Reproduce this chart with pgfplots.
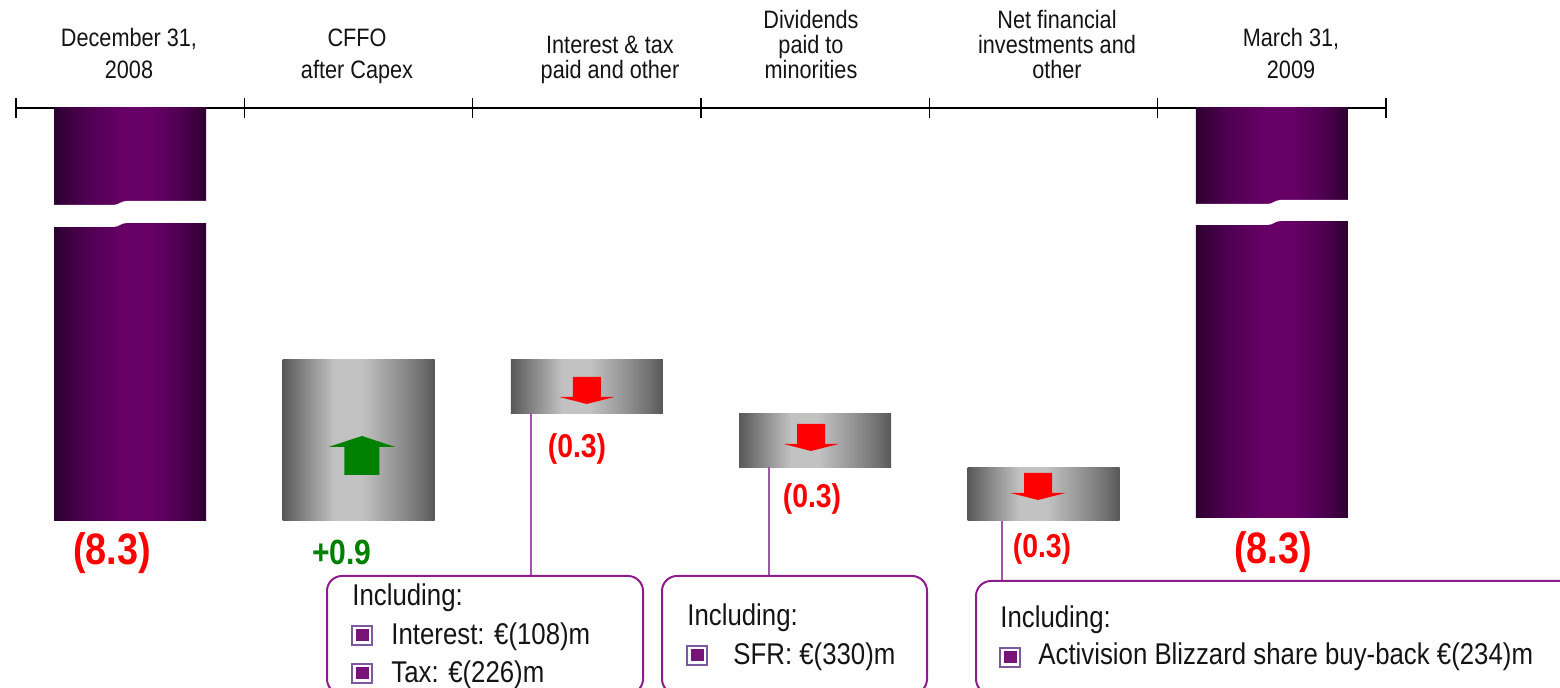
\documentclass[border=0pt]{standalone}
\usepackage{pgfplots}
\pgfplotsset{compat=1.18}
\usepackage{fontspec}
\setmainfont{Liberation Sans}[FakeStretch=0.86]
\definecolor{purD}{RGB}{45,0,48}
\definecolor{purQ}{RGB}{78,0,80}
\definecolor{purM}{RGB}{102,0,102}
\definecolor{grD}{RGB}{88,88,88}
\definecolor{grQ}{RGB}{132,132,132}
\definecolor{grR}{RGB}{150,150,150}
\definecolor{grS}{RGB}{115,115,115}
\definecolor{grL}{RGB}{194,194,194}
\definecolor{boxpur}{RGB}{140,30,140}
\definecolor{leadpur}{RGB}{165,80,170}
\definecolor{bulE}{RGB}{125,90,160}
\definecolor{bulF}{RGB}{120,20,120}
\definecolor{txt}{RGB}{20,20,20}
\definecolor{vred}{RGB}{255,0,0}
\definecolor{vgreen}{RGB}{0,128,0}

\pgfdeclarehorizontalshading{grayshade}{100bp}{color(0bp)=(grD); color(25bp)=(grD); color(32bp)=(grQ); color(42bp)=(grL); color(51bp)=(grL); color(62bp)=(grR); color(70bp)=(grS); color(75bp)=(grD); color(100bp)=(grD)}
\pgfdeclarehorizontalshading{purshade}{100bp}{color(0bp)=(purD); color(25bp)=(purD); color(35bp)=(purQ); color(47bp)=(purM); color(57bp)=(purM); color(67bp)=(purQ); color(75bp)=(purD); color(100bp)=(purD)}

\pgfdeclareplotmark{darr}{%
  \pgfpathmoveto{\pgfqpoint{-7pt}{6.75pt}}%
  \pgfpathlineto{\pgfqpoint{7pt}{6.75pt}}%
  \pgfpathlineto{\pgfqpoint{7pt}{-3.25pt}}%
  \pgfpathlineto{\pgfqpoint{13.75pt}{-3.25pt}}%
  \pgfpathlineto{\pgfqpoint{0pt}{-6.75pt}}%
  \pgfpathlineto{\pgfqpoint{-13.75pt}{-3.25pt}}%
  \pgfpathlineto{\pgfqpoint{-7pt}{-3.25pt}}%
  \pgfpathclose
  \pgfusepathqfill}
\pgfdeclareplotmark{uarr}{%
  \pgfpathmoveto{\pgfqpoint{-8.75pt}{-9.75pt}}%
  \pgfpathlineto{\pgfqpoint{8.75pt}{-9.75pt}}%
  \pgfpathlineto{\pgfqpoint{8.75pt}{4.25pt}}%
  \pgfpathlineto{\pgfqpoint{16.75pt}{4.25pt}}%
  \pgfpathlineto{\pgfqpoint{0pt}{9.75pt}}%
  \pgfpathlineto{\pgfqpoint{-16.75pt}{4.25pt}}%
  \pgfpathlineto{\pgfqpoint{-8.75pt}{4.25pt}}%
  \pgfpathclose
  \pgfusepathqfill}

\newcommand\catlab[2]{\vbox{\baselineskip=#1\lineskiplimit=-20pt\halign{\hfil##\hfil\cr#2\cr}}}
\newcommand\cat{\fontsize{12.6}{15}\selectfont}
\newcommand\boxf{\fontsize{15}{18}\selectfont}
\newcommand\bul[2]{%
  \filldraw[draw=bulE, line width=0.9pt, fill=white] (#1,#2) rectangle (#1+20,#2-19);
  \fill[bulF] (#1+3.5,#2-3.5) rectangle (#1+16.5,#2-15.5);}

\pgfplotsset{wf/.style={scale only axis, width=685pt, height=290pt,
  xmin=-0.5, xmax=5.5, ymin=-9.23344, ymax=-5.9914, at={(0,0)}, anchor=south west}}

% one floating bar: category x, level before, change
\newcommand\floatbar[3]{%
\begin{axis}[wf, hide axis, ybar stacked, bar width=76pt]
\addplot[draw=none, fill=none] coordinates {(#1,#2)};
\addplot[draw=none, shade, shading=grayshade] coordinates {(#1,#3)};
\end{axis}}

\begin{document}
\begin{tikzpicture}
% changes: CFFO after Capex, Interest & tax, Dividends, Net financial investments
\floatbar{1}{-7.4}{-0.9}
\floatbar{2}{-7.4}{-0.3}
\floatbar{3}{-7.7}{-0.3}
\floatbar{4}{-8.0}{-0.3}
% main axis: totals (broken), arrows, category axis
\begin{axis}[wf, clip mode=individual, axis x line*=top, axis y line=none,
  xtick={-0.5,0.5,...,5.5}, xticklabels={}, ytick=\empty,
  tick align=center, major tick length=10pt,
  every tick/.style={black, line width=0.6pt},
  axis line style={black, line width=0.6pt}]
\addplot[ybar, bar width=76pt, draw=none, shade, shading=purshade] coordinates {(0,-8.3)};
\addplot[ybar, bar width=76pt, draw=none, shade, shading=purshade] coordinates {(5,-8.28)};
\addplot[only marks, mark=uarr, color=vgreen] coordinates {(1.015,-7.9338)};
\addplot[only marks, mark=darr, color=vred] coordinates {(2.0,-7.5705) (2.982,-7.8332) (3.976,-8.1071)};
\end{axis}
\begin{scope}[shift={(-8pt,344pt)}, x=0.5pt, y=-0.5pt]
  % axis breaks
  \fill[white] (52,205) -- (113,205) .. controls (120,205) and (120,201) .. (127,201) -- (208,201)
     -- (208,223) -- (127,223) .. controls (120,223) and (120,227) .. (113,227) -- (52,227) -- cycle;
  \fill[white] (1195,204) -- (1267,204) .. controls (1274,204) and (1274,200) .. (1281,200) -- (1351,200)
     -- (1351,221) -- (1281,221) .. controls (1274,221) and (1274,225) .. (1267,225) -- (1195,225) -- cycle;
  % category labels
  \begin{scope}[every node/.style={anchor=base, inner sep=0pt, font=\cat, text=txt}]
  \node at (129,79) {\catlab{16pt}{December 31,\cr 2008}};
  \node at (357,79) {\catlab{16pt}{CFFO\cr after Capex}};
  \node at (610,79) {\catlab{12.5pt}{Interest \& tax\cr paid and other}};
  \node at (811,79) {\catlab{12.5pt}{Dividends\cr paid to\cr minorities}};
  \node at (1057,79) {\catlab{12.5pt}{Net financial\cr investments and\cr other}};
  \node at (1291,79) {\catlab{16pt}{March 31,\cr 2009}};
  \end{scope}
  % value labels
  \node[anchor=base, inner sep=0pt, text=vred, font=\bfseries\fontsize{22}{24}\selectfont] at (112,565) {(8.3)};
  \node[anchor=base, inner sep=0pt, text=vgreen, font=\bfseries\fontsize{17.5}{20}\selectfont] at (342,565) {+0.9};
  \node[anchor=base, inner sep=0pt, text=vred, font=\bfseries\fontsize{16.5}{20}\selectfont] at (577,458) {(0.3)};
  \node[anchor=base, inner sep=0pt, text=vred, font=\bfseries\fontsize{16.5}{20}\selectfont] at (812,508) {(0.3)};
  \node[anchor=base, inner sep=0pt, text=vred, font=\bfseries\fontsize{16.5}{20}\selectfont] at (1042,558) {(0.3)};
  \node[anchor=base, inner sep=0pt, text=vred, font=\bfseries\fontsize{22}{24}\selectfont] at (1273,564) {(8.3)};
  % leader lines
  \draw[leadpur, line width=0.75pt] (531,413) -- (531,576);
  \draw[leadpur, line width=0.75pt] (769,467) -- (769,576);
  \draw[leadpur, line width=0.75pt] (1002,521) -- (1002,581);
  % callout boxes
  \draw[boxpur, line width=1pt, rounded corners=7.5pt] (327,576) rectangle (643,694);
  \draw[boxpur, line width=1pt, rounded corners=7.5pt] (662,576) rectangle (927,694);
  \draw[boxpur, line width=1pt, rounded corners=7.5pt] (976,581) rectangle (1610,694);
  \begin{scope}[every node/.style={anchor=base west, inner sep=0pt, font=\boxf, text=txt}]
  \node at (352,606) {Including:};
  \bul{352}{645}\node at (391,645) {Interest: €(108)m};
  \bul{352}{683}\node at (391,683) {Tax: €(226)m};
  \node at (687,626) {Including:};
  \bul{687}{665}\node at (733,665) {SFR: €(330)m};
  \node at (1000,628) {Including:};
  \bul{1000}{667}\node at (1038,665) {Activision Blizzard share buy-back €(234)m};
  \end{scope}
  \pgfresetboundingbox
  \path[use as bounding box] (0,0) rectangle (1560,688);
\end{scope}
\end{tikzpicture}
\end{document}
